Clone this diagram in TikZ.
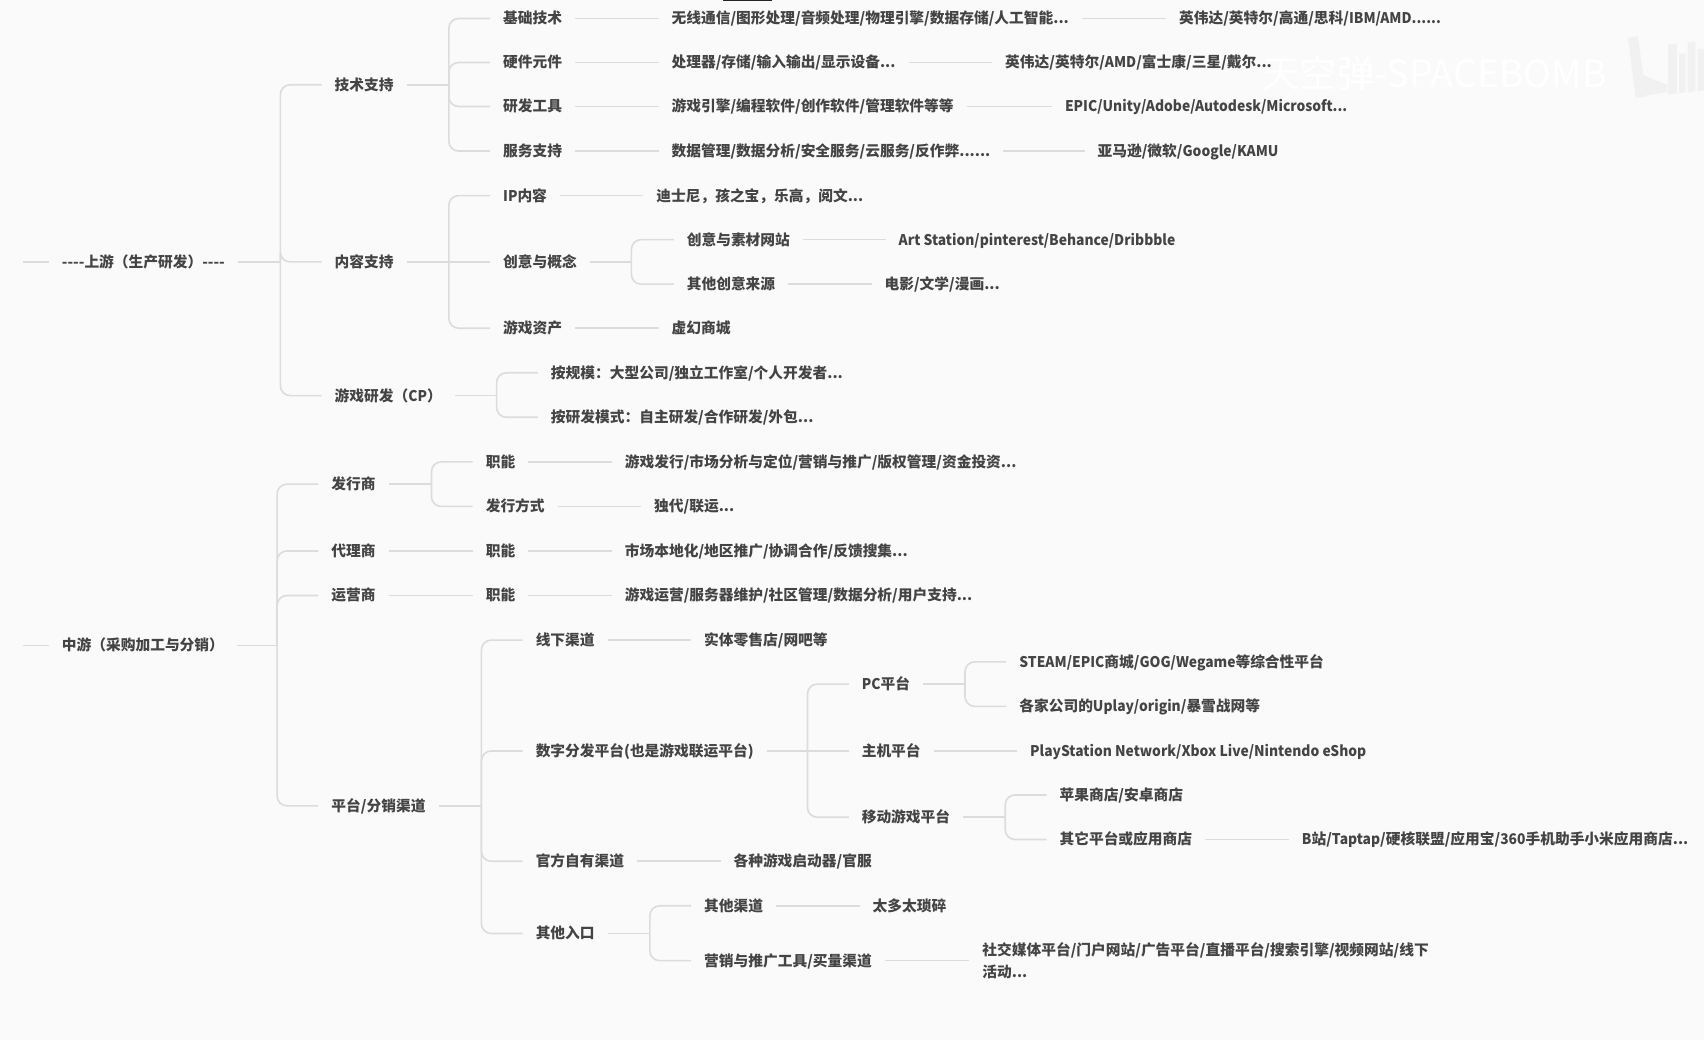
\documentclass[tikz,border=0pt]{standalone}
\usepackage{fontspec}
\setmainfont{Noto Sans CJK SC}
\newfontfamily\latinface{Noto Sans CJK SC}[FakeStretch=0.94]
\newcommand{\lat}[1]{{\latinface\bfseries #1}}
\usepackage{xcolor}
\usetikzlibrary{calc}
\definecolor{pagebg}{HTML}{FAFAFA}
\definecolor{linkgray}{HTML}{DCDCDC}
\definecolor{textgray}{HTML}{444444}
\definecolor{logogray}{HTML}{F1F1F1}
\tikzset{
  topic/.style={anchor=west, inner xsep=12pt, inner ysep=0pt, outer sep=0pt, text height=12pt, text depth=2pt, text=textgray, font=\fontsize{13.55}{20.5}\selectfont\bfseries},
  link/.style={draw=linkgray, line width=1.5pt},
  elbow/.style={link, rounded corners=9pt},
}
\begin{document}
\begin{tikzpicture}[x=1pt,y=-1pt]
\useasboundingbox (0,0) rectangle (1568,957);
\fill[pagebg] (0,0) rectangle (1568,957);
\fill[black!85] (665,0) rectangle (710,1.2);
% upstream
\coordinate (upstub) at (21,241);
\node[topic] (up) at (45,241) {-{}-{}-{}-上游（生产研发）-{}-{}-{}-};
\node[topic] (tech) at (296,78) {技术支持};
\node[topic] (cont) at (296,241) {内容支持};
\node[topic] (cp) at (296,364) {游戏研发（\lat{CP}）};
\node[topic] (basic) at (451,17) {基础技术};
\node[topic] (hard) at (451,57.5) {硬件元件};
\node[topic] (tool) at (451,98) {研发工具};
\node[topic] (serv) at (451,139) {服务支持};
\node[topic] (basica) at (606,17) {无线通信/图形处理/音频处理/物理引擎/数据存储/人工智能...};
\node[topic] (harda) at (606,57.5) {处理器/存储/输入输出/显示设备...};
\node[topic] (toola) at (606,98) {游戏引擎/编程软件/创作软件/管理软件等等};
\node[topic] (serva) at (606,139) {数据管理/数据分析/安全服务/云服务/反作弊......};
\node[topic] (basicb) at (1073,17) {英伟达/英特尔/高通/思科/\lat{IBM/AMD......}};
\node[topic] (hardb) at (913,57.5) {英伟达/英特尔/\lat{AMD}/富士康/三星/戴尔...};
\node[topic] (toolb) at (968,98) {\lat{EPIC/Unity/Adobe/Autodesk/Microsoft...}};
\node[topic] (servb) at (998,139) {亚马逊/微软/\lat{Google/KAMU}};
\node[topic] (ip) at (451,180) {\lat{IP}内容};
\node[topic] (idea) at (451,241) {创意与概念};
\node[topic] (asset) at (451,302) {游戏资产};
\node[topic] (ipa) at (592,180) {迪士尼，孩之宝，乐高，阅文...};
\node[topic] (site) at (620,220.5) {创意与素材网站};
\node[topic] (other) at (620,261.5) {其他创意来源};
\node[topic] (sitea) at (815,220.5) {\lat{Art Station/pinterest/Behance/Dribbble}};
\node[topic] (othera) at (802,261.5) {电影/文学/漫画...};
\node[topic] (asseta) at (606,302) {虚幻商城};
\node[topic] (scale) at (495,343) {按规模：大型公司/独立工作室/个人开发者...};
\node[topic] (mode) at (495,384) {按研发模式：自主研发/合作研发/外包...};
% midstream
\coordinate (midstub) at (21,594);
\node[topic] (mid) at (45,594) {中游（采购加工与分销）};
\node[topic] (pub) at (293,445.5) {发行商};
\node[topic] (agent) at (293,507) {代理商};
\node[topic] (oper) at (293,548) {运营商};
\node[topic] (plat) at (293,741.5) {平台/分销渠道};
\node[topic] (pubf) at (435,425) {职能};
\node[topic] (pubw) at (435,466) {发行方式};
\node[topic] (agentf) at (435,507) {职能};
\node[topic] (operf) at (435,548) {职能};
\node[topic] (pubfa) at (563,425) {游戏发行/市场分析与定位/营销与推广/版权管理/资金投资...};
\node[topic] (pubwa) at (590,466) {独代/联运...};
\node[topic] (agentfa) at (563,507) {市场本地化/地区推广/协调合作/反馈搜集...};
\node[topic] (operfa) at (563,548) {游戏运营/服务器维护/社区管理/数据分析/用户支持...};
\node[topic] (off) at (481,589) {线下渠道};
\node[topic] (digi) at (481,691) {数字分发平台(也是游戏联运平台)};
\node[topic] (offic) at (481,792.5) {官方自有渠道};
\node[topic] (entry) at (481,859) {其他入口};
\node[topic] (offa) at (636,589) {实体零售店/网吧等};
\node[topic] (pc) at (781,629.5) {\lat{PC}平台};
\node[topic] (cons) at (781,691) {主机平台};
\node[topic] (mob) at (781,752) {移动游戏平台};
\node[topic] (pca) at (926,609) {\lat{STEAM/EPIC}商城/\lat{GOG/Wegame}等综合性平台};
\node[topic] (pcb) at (926,650) {各家公司的\lat{Uplay/origin}/暴雪战网等};
\node[topic] (consa) at (936,691) {\lat{PlayStation Network/Xbox Live/Nintendo eShop}};
\node[topic] (moba) at (963,731.5) {苹果商店/安卓商店};
\node[topic] (mobb) at (963,772.5) {其它平台或应用商店};
\node[topic] (mobc) at (1186,772.5) {\lat{B}站/\lat{Taptap}/硬核联盟/应用宝/\lat{360}手机助手小米应用商店...};
\node[topic] (offica) at (663,792.5) {各种游戏启动器/官服};
\node[topic] (chan) at (636,833.5) {其他渠道};
\node[topic] (mark) at (636,884) {营销与推广工具/买量渠道};
\node[topic] (chana) at (791,833.5) {太多太琐碎};
\node[topic, align=left, text height=, text depth=] (marka) at (892,884) {社交媒体平台/门户网站/广告平台/直播平台/搜索引擎/视频网站/线下\\活动...};
% straight links
\foreach \a/\b in {upstub/up, midstub/mid, basic/basica, hard/harda, tool/toola, serv/serva, basica/basicb, harda/hardb, toola/toolb, serva/servb, ip/ipa, site/sitea, other/othera, asset/asseta, cont/idea, pubf/pubfa, pubw/pubwa, agent/agentf, agentf/agentfa, oper/operf, operf/operfa, off/offa, digi/cons, cons/consa, mobb/mobc, offic/offica, chan/chana, mark/marka}
  \draw[link] (\a) -- (\b.west);
% branches
\foreach \p/\x/\list in {up/258/{tech,cont,cp}, tech/413/{basic,hard,tool,serv}, cont/413/{ip,asset}, idea/581/{site,other}, cp/457/{scale,mode}, mid/255/{pub,agent,oper,plat}, pub/397/{pubf,pubw}, plat/443/{off,digi,offic,entry}, digi/743/{pc,mob}, pc/888/{pca,pcb}, mob/925/{moba,mobb}, entry/598/{chan,mark}} {
  \draw[link] (\p.east) -- (\x,0 |- \p.east);
  \foreach \c in \list
    \draw[elbow] (\x,0 |- \p.east) |- (\c.west);
}
% watermark
\node[text=white, font=\fontsize{34.5}{34.5}\selectfont, inner sep=0pt] (wmark) at (1320,67) {天空弹-SPACEBOMB};
\fill[logogray] (1498,35) -- (1507,33) -- (1515,89) -- (1505,90) -- cycle;
\fill[logogray] (1512,69) -- (1534,78) -- (1534,85) -- (1512,88) -- cycle;
\fill[logogray] (1535,41) -- (1543,40) -- (1543,86) -- (1535,87) -- cycle;
\fill[logogray] (1545,50) -- (1551,49) -- (1551,85) -- (1545,86) -- cycle;
\fill[logogray] (1553,39) -- (1560,38) -- (1560,84) -- (1553,85) -- cycle;
\fill[logogray] (1562,45) -- (1568,45) -- (1568,83) -- (1562,84) -- cycle;
\end{tikzpicture}
\end{document}
